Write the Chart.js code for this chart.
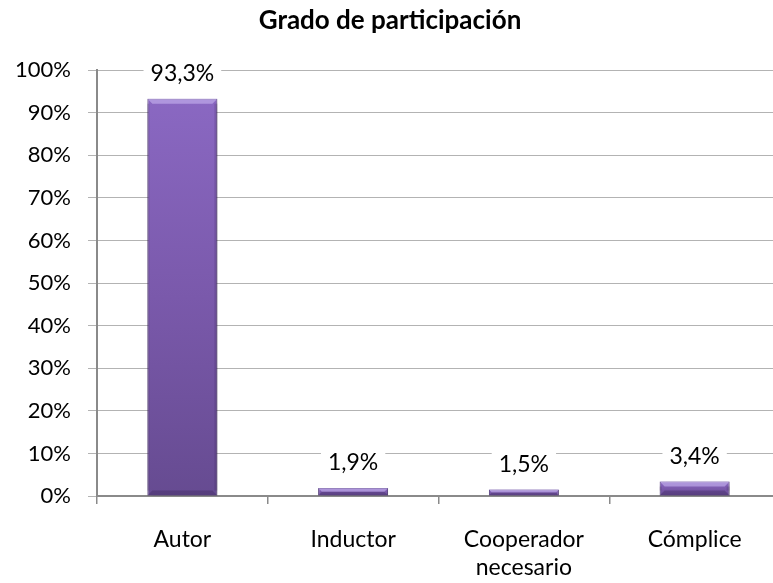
<!DOCTYPE html>
<html>
<head>
<meta charset="utf-8">
<script src="https://cdn.jsdelivr.net/npm/chart.js@4.4.1/dist/chart.umd.min.js"></script>
<style>
  html, body { margin: 0; padding: 0; background: #fff; overflow: hidden; }
  #wrap { width: 790px; height: 583px; }
</style>
</head>
<body>
<div id="wrap"><canvas id="grafica"></canvas></div>
<script>
// datos
const categorias = [['Autor'], ['Inductor'], ['Cooperador', 'necesario'], ['Cómplice']];
const porcentajes = [93.3, 1.9, 1.5, 3.4];
const ticksY = [0, 10, 20, 30, 40, 50, 60, 70, 80, 90, 100];

const FUENTE = 'Lato, "Open Sans", sans-serif';

// degradado por barra (claro arriba, oscuro abajo)
function rellenoBarra(ctx) {
  const chart = ctx.chart;
  const y = chart.scales.y;
  if (!chart.chartArea || !y || !ctx.parsed) return '#7b5bb0';
  const top = y.getPixelForValue(ctx.parsed.y);
  const base = y.getPixelForValue(0);
  if (!Number.isFinite(top) || !Number.isFinite(base) || top === base) return '#7b5bb0';
  const g = chart.ctx.createLinearGradient(0, top, 0, base);
  g.addColorStop(0, '#8a68c2');
  g.addColorStop(0.5, '#7a59ab');
  g.addColorStop(1, '#664b91');
  return g;
}

// sombra suave detrás de las barras
const sombraBarras = {
  id: 'sombraBarras',
  beforeDatasetsDraw(chart) {
    const c = chart.ctx;
    c.save();
    c.shadowColor = 'rgba(0,0,0,0.28)';
    c.shadowBlur = 6;
    c.shadowOffsetX = 2;
    c.shadowOffsetY = 3;
  },
  afterDatasetsDraw(chart) {
    chart.ctx.restore();
  }
};

// biselado en los bordes de las barras
const biselBarras = {
  id: 'biselBarras',
  afterDatasetsDraw(chart) {
    const c = chart.ctx;
    const meta = chart.getDatasetMeta(0);
    c.save();
    meta.data.forEach(barra => {
      const izq = barra.x - barra.width / 2;
      const der = barra.x + barra.width / 2;
      const alto = barra.base - barra.y;
      const b = Math.min(5, alto / 2);
      c.fillStyle = 'rgba(200,182,240,0.6)';
      c.beginPath();
      c.moveTo(izq, barra.y);
      c.lineTo(der, barra.y);
      c.lineTo(der - b, barra.y + b);
      c.lineTo(izq + b, barra.y + b);
      c.closePath();
      c.fill();
      c.fillStyle = 'rgba(50,30,80,0.3)';
      c.beginPath();
      c.moveTo(izq, barra.base);
      c.lineTo(der, barra.base);
      c.lineTo(der - b, barra.base - b);
      c.lineTo(izq + b, barra.base - b);
      c.closePath();
      c.fill();
      c.fillStyle = 'rgba(50,30,80,0.18)';
      c.fillRect(der - 3, barra.y + b, 3, alto - 2 * b);
      c.fillRect(izq, barra.y + b, 2, alto - 2 * b);
    });
    c.restore();
  }
};

// etiqueta de valor encima de cada barra, con fondo blanco
const etiquetasValor = {
  id: 'etiquetasValor',
  afterDatasetsDraw(chart) {
    const c = chart.ctx;
    const meta = chart.getDatasetMeta(0);
    c.save();
    c.font = '23px ' + FUENTE;
    c.textAlign = 'center';
    c.textBaseline = 'middle';
    meta.data.forEach((barra, i) => {
      const txt = porcentajes[i].toFixed(1).replace('.', ',') + '%';
      const w = c.measureText(txt).width;
      const yTxt = barra.y - 25;
      c.fillStyle = '#fff';
      c.fillRect(barra.x - w / 2 - 7, yTxt - 13, w + 14, 26);
      c.fillStyle = '#000';
      c.fillText(txt, barra.x, yTxt);
    });
    c.restore();
  }
};

new Chart(document.getElementById('grafica'), {
  type: 'bar',
  data: {
    labels: categorias,
    datasets: [{
      data: porcentajes,
      backgroundColor: rellenoBarra,
      borderColor: '#523a7c',
      borderWidth: 1,
      categoryPercentage: 1,
      barPercentage: 0.41,
    }],
  },
  options: {
    responsive: true,
    maintainAspectRatio: false,
    animation: false,
    layout: { padding: { top: 0, right: 10, left: 0, bottom: 0 } },
    plugins: {
      legend: { display: false },
      tooltip: { enabled: false },
      title: {
        display: true,
        text: 'Grado de participación',
        color: '#000',
        font: { family: FUENTE, size: 26, weight: 'bold', lineHeight: 1.2 },
        padding: { top: 5, bottom: 34 },
      },
    },
    scales: {
      x: {
        grid: {
          offset: true,
          drawOnChartArea: false,
          color: '#8a8a8a',
          tickLength: 8,
          lineWidth: 1.5,
        },
        border: { color: '#8a8a8a', width: 2 },
        ticks: {
          color: '#000',
          font: { family: FUENTE, size: 23, lineHeight: 28 / 23 },
          padding: 22,
          maxRotation: 0,
          autoSkip: false,
        },
        afterFit(scale) { scale.height = 87; },
      },
      y: {
        min: 0,
        max: 100,
        afterBuildTicks(scale) { scale.ticks = ticksY.map(v => ({ value: v })); },
        grid: { color: '#b3b3b3', tickLength: 9, lineWidth: 1 },
        border: { color: '#8a8a8a', width: 2 },
        ticks: {
          color: '#000',
          font: { family: FUENTE, size: 22 },
          padding: 17,
          callback: v => v + '%',
        },
        afterFit(scale) { scale.width = 97; },
      },
    },
  },
  plugins: [sombraBarras, biselBarras, etiquetasValor],
});
</script>
</body>
</html>
